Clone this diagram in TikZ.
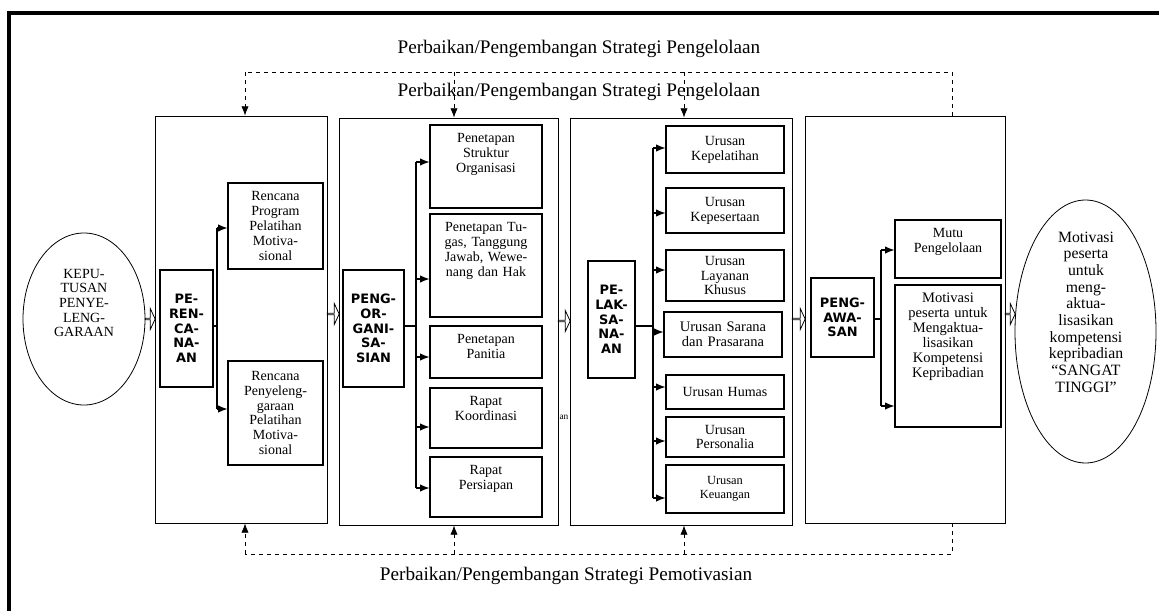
\documentclass[tikz,border=0pt]{standalone}
\usepackage{fontspec}
\setmainfont{Liberation Serif}
\newfontfamily\headfont{DejaVu Sans}
\usetikzlibrary{arrows.meta,shapes.geometric,shapes.arrows}

\begin{document}
\begin{tikzpicture}[x=0.75pt,y=-0.75pt,
  >={Latex[length=7pt,width=5.5pt]},
  stage/.style={draw, line width=0.6pt, minimum width=#1, minimum height=305.25pt, inner sep=0pt},
  head/.style={draw, line width=0.8pt, align=center, inner sep=0pt, font=\headfont\bfseries\fontsize{9.7}{11}\selectfont},
  item/.style={draw, line width=0.8pt, align=center, inner xsep=2pt, inner ysep=3pt, font=\fontsize{10.5}{11.2}\selectfont},
  itemtop/.style={item, text height=10pt, text depth=#1},
  col1/.style={minimum width=71.25pt, text width=66pt},
  col2/.style={minimum width=84pt, text width=78pt},
  col3/.style={minimum width=88.5pt, text width=82pt},
  col4/.style={minimum width=79.5pt, text width=74pt},
  oval/.style={draw, ellipse, line width=0.6pt, inner sep=0pt},
  hollow/.style={draw, single arrow, single arrow tip angle=130, single arrow head extend=4.5pt, minimum width=16pt, inner sep=0pt, line width=0.6pt},
  note/.style={font=\fontsize{14.4}{16}\selectfont},
  link/.style={line width=0.8pt},
  fb/.style={dashed, line width=0.6pt}
]
\useasboundingbox (0,0) rectangle (1159,610);
\draw[line width=3.5pt] (9,640) -- (9,13) -- (1180,13);

\node[note] (top1) at (579,49) {Perbaikan/Pengembangan Strategi Pengelolaan};
\node[note] (top2) at (579,92) {Perbaikan/Pengembangan Strategi Pengelolaan};
\node[note] (bot) at (566,576) {Perbaikan/Pengembangan Strategi Pemotivasian};

\node[oval, minimum width=91.5pt, minimum height=129pt] (kep) at (84,319) {};
\node[align=center, font=\fontsize{10.5}{11}\selectfont] (keptxt) at (84,303) {KEPU-\\TUSAN\\PENYE-\\LENG-\\GARAAN};
\node[oval, minimum width=105.75pt, minimum height=197.25pt] (hasil) at (1085.5,331.5) {};
\node[align=center, font=\fontsize{11.8}{12.5}\selectfont] (hasiltxt) at (1086,312) {Motivasi\\peserta\\untuk\\meng-\\aktua-\\lisasikan\\kompetensi\\kepribadian\\``SANGAT\\TINGGI''};

\node[stage=129pt] (plan) at (241,319.5) {};
\node[stage=164.25pt] (org) at (448.5,321.5) {};
\node[stage=166.5pt] (exec) at (681,321.5) {};
\node[stage=150pt] (ctrl) at (905,319.5) {};

\node[head, minimum width=39.75pt, minimum height=87.75pt] (plan0) at (186.5,328.5) {PE-\\REN-\\CA-\\NA-\\AN};
\node[head, minimum width=45.75pt, minimum height=87.75pt] (org0) at (373.5,328.5) {PENG-\\OR-\\GANI-\\SA-\\SIAN};
\node[head, minimum width=35.25pt, minimum height=87.75pt] (exec0) at (611.5,319.5) {PE-\\LAK-\\SA-\\NA-\\AN};
\node[head, minimum width=47.25pt, minimum height=59.25pt] (ctrl0) at (842.5,317.5) {PENG-\\AWA-\\SAN};

\node[item, col1, minimum height=64.5pt] (rprog) at (275.5,226) {Rencana\\Program\\Pelatihan\\Motiva-\\sional};
\node[item, col1, minimum height=78pt] (rpeny) at (275.5,413) {Rencana\\Penyeleng-\\garaan\\Pelatihan\\Motiva-\\sional};

\node[itemtop=46.25pt, col2] (struk) at (486,166.5) {Penetapan\\Struktur\\Organisasi};
\node[itemtop=61.25pt, col2] (tugas) at (486,265.5) {Penetapan Tu-\\gas, Tanggung\\Jawab, Wewe-\\nang dan Hak};
\node[itemtop=23pt, col2] (panitia) at (486,352) {Penetapan\\Panitia};
\node[itemtop=29pt, col2] (koord) at (486,418) {Rapat\\Koordinasi};
\node[itemtop=29pt, col2] (persiap) at (486,487) {Rapat\\Persiapan};

\node[item, col3, minimum height=35.25pt] (kepel) at (725,149.5) {Urusan\\Kepelatihan};
\node[item, col3, minimum height=33.75pt] (kepes) at (725,210.5) {Urusan\\Kepesertaan};
\node[item, col3, minimum height=38.25pt] (layan) at (725,275.5) {Urusan\\Layanan\\Khusus};
\node[item, col3, minimum height=33.75pt, font=\fontsize{10.9}{11.4}\selectfont] (sarana) at (723,334.5) {Urusan Sarana\\dan Prasarana};
\node[item, col3, minimum height=25.5pt] (humas) at (725,392) {Urusan Humas};
\node[item, col3, minimum height=30pt] (person) at (725,437) {Urusan\\Personalia};
\node[item, col3, minimum height=36pt, font=\fontsize{9.3}{10.2}\selectfont] (keuang) at (725,489) {Urusan\\Keuangan};

\node[itemtop=27.5pt, col4] (mutu) at (948,249) {Mutu\\Pengelolaan};
\node[itemtop=90.5pt, col4, font=\fontsize{10.9}{11.25}\selectfont] (motiv) at (948,356) {Motivasi\\peserta untuk\\Mengaktua-\\lisasikan\\Kompetensi\\Kepribadian};

\node[font=\fontsize{7}{8}\selectfont, inner sep=0pt] (stray) at (564,417) {an};

\node[hollow, minimum height=7.5pt] (f1) at (150,319) {};
\node[hollow, minimum height=9pt] (f2) at (333,314) {};
\node[hollow, minimum height=9pt] (f3) at (564,321) {};
\node[hollow, minimum height=9.75pt] (f4) at (798.5,319) {};
\node[hollow, minimum height=7.5pt] (f5) at (1010,314) {};

\coordinate (j1) at (217,326);
\coordinate (j2) at (416,326);
\coordinate (j3) at (653,326);
\coordinate (j4) at (881,319);
\draw[link] (plan0.east |- j1) -- (j1);
\draw[link] (j1 |- 0,228) -- (j1 |- 0,409);
\draw[link,->] (j1 |- 0,228) -- (rprog.west |- 0,228);
\draw[link,->] (j1 |- 0,409) -- (rpeny.west |- 0,409);
\draw[link] (org0.east |- j2) -- (j2);
\draw[link] (j2 |- 0,162) -- (j2 |- 0,488);
\foreach \n/\y in {struk/162,tugas/279,panitia/357,koord/427,persiap/488}
  \draw[link,->] (j2 |- 0,\y) -- (\n.west |- 0,\y);
\draw[link] (exec0.east |- j3) -- (j3);
\draw[link] (j3 |- 0,148) -- (j3 |- 0,498);
\foreach \n/\y in {kepel/148,kepes/213,layan/270,sarana/332,humas/387,person/441,keuang/498}
  \draw[link,->] (j3 |- 0,\y) -- (\n.west |- 0,\y);
\draw[link] (ctrl0.east |- j4) -- (j4);
\draw[link] (j4 |- 0,250) -- (j4 |- 0,406);
\draw[link,->] (j4 |- 0,250) -- (mutu.west |- 0,250);
\draw[link,->] (j4 |- 0,406) -- (motiv.west |- 0,406);

\coordinate (t1) at (245,72);
\coordinate (t2) at (454,72);
\coordinate (t3) at (684,72);
\coordinate (t4) at (952,72);
\draw[fb] (ctrl.north -| t4) -- (t4) -- (t1);
\foreach \c/\s in {t1/plan,t2/org,t3/exec}
  \draw[fb,->] (\c) -- (\s.north -| \c);
\coordinate (b1) at (245,554);
\coordinate (b2) at (454,554);
\coordinate (b3) at (684,554);
\coordinate (b4) at (952,554);
\draw[fb] (ctrl.south -| b4) -- (b4) -- (b1);
\foreach \c/\s in {b1/plan,b2/org,b3/exec}
  \draw[fb,->] (\c) -- (\s.south -| \c);
\end{tikzpicture}
\end{document}
